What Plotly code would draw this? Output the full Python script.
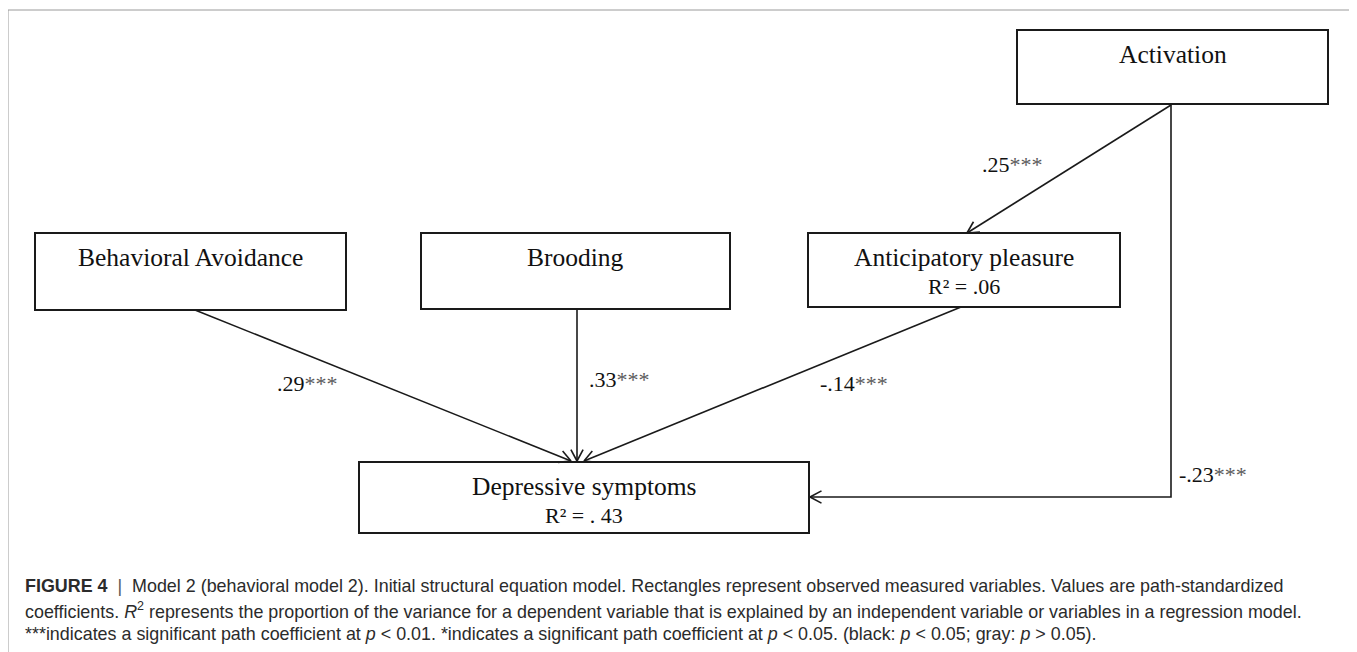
import math
import plotly.graph_objects as go

# ---------------- data ----------------
node_names = ["Activation", "Behavioral Avoidance", "Brooding",
              "Anticipatory pleasure", "Depressive symptoms"]
node_r2 = [None, None, None, "R² = .06", "R² = . 43"]

edge_source = ["Activation", "Behavioral Avoidance", "Brooding",
               "Anticipatory pleasure", "Activation"]
edge_target = ["Anticipatory pleasure", "Depressive symptoms", "Depressive symptoms",
               "Depressive symptoms", "Depressive symptoms"]
edge_coef = [".25", ".29", ".33", "-.14", "-.23"]
edge_sig = ["***", "***", "***", "***", "***"]

caption_lines = [
    "<b>FIGURE 4</b>&nbsp;&nbsp;<span style='color:#555'>|</span>&nbsp; Model 2 (behavioral model 2). Initial structural equation model. "
    "Rectangles represent observed measured variables. Values are path-standardized",
    "coefficients. <i>R</i><sup>2</sup> represents the proportion of the variance for a dependent variable "
    "that is explained by an independent variable or variables in a regression model.",
    "***indicates a significant path coefficient at <i>p</i> &lt; 0.01. *indicates a significant path "
    "coefficient at <i>p</i> &lt; 0.05. (black: <i>p</i> &lt; 0.05; gray: <i>p</i> &gt; 0.05).",
]

# ---------------- layout (positions / styles) ----------------
W, H = 1357, 652
OFF = 8  # page body margin in the browser
box = {  # x0, x1, y0, y1 in screen pixel units
    "Activation": (1017, 1328, 30, 104),
    "Behavioral Avoidance": (35, 346, 233, 310),
    "Brooding": (421, 730, 233, 309),
    "Anticipatory pleasure": (808, 1120, 233, 307),
    "Depressive symptoms": (359, 809, 462, 533),
}
edge_geom = [
    [(1171, 105), (967, 233)],
    [(195, 310), (571, 461)],
    [(577, 309), (577, 461)],
    [(961, 307), (584, 461)],
    [(1171, 105), (1171, 497), (810, 497)],
]
label_pos = [(1012, 164), (307, 383), (619, 379), (854, 383), (1213, 474)]

LINE = "#1a1a1a"
SERIF = "Liberation Serif"
SANS = "Liberation Sans"

fig = go.Figure()
shapes = []
annotations = []

# outer frame
shapes.append(dict(type="rect", x0=8, x1=1350, y0=10, y1=H + 30,
                   line=dict(color="#9a9a9a", width=1), layer="below"))

# boxes + labels
for name, r2 in zip(node_names, node_r2):
    x0, x1, y0, y1 = box[name]
    shapes.append(dict(type="rect", x0=x0, x1=x1, y0=y0, y1=y1,
                       line=dict(color=LINE, width=2), fillcolor="white"))
    cx = (x0 + x1) / 2
    annotations.append(dict(x=cx, y=y0 + 24, text=name, showarrow=False,
                            xanchor="center", yanchor="middle",
                            font=dict(family=SERIF, size=25.5, color="#111")))
    if r2:
        annotations.append(dict(x=cx, y=y0 + 53, text=r2, showarrow=False,
                                xanchor="center", yanchor="middle",
                                font=dict(family=SERIF, size=22, color="#111")))

# edges
HEAD = 13
ANG = math.radians(28)
for pts, coef, sig, lp in zip(edge_geom, edge_coef, edge_sig, label_pos):
    path = "M {} {}".format(*pts[0]) + "".join(" L {} {}".format(*p) for p in pts[1:])
    shapes.append(dict(type="path", path=path, line=dict(color=LINE, width=1.6)))
    (xa, ya), (xb, yb) = pts[-2], pts[-1]
    th = math.atan2(ya - yb, xa - xb)
    for s in (-1, 1):
        hx = xb + HEAD * math.cos(th + s * ANG)
        hy = yb + HEAD * math.sin(th + s * ANG)
        shapes.append(dict(type="line", x0=xb, y0=yb, x1=hx, y1=hy,
                           line=dict(color=LINE, width=1.6)))
    annotations.append(dict(x=lp[0], y=lp[1],
                            text=f"{coef}<span style='color:#5a5a5a'>{sig}</span>",
                            showarrow=False, xanchor="center", yanchor="middle",
                            font=dict(family=SERIF, size=22, color="#111")))

# caption
caption_y = [586, 610, 634]
for line, cy in zip(caption_lines, caption_y):
    annotations.append(dict(x=23, y=cy, text=line, showarrow=False,
                            xanchor="left", yanchor="middle",
                            font=dict(family=SANS, size=17.9, color="#2b2b2b")))

fig.update_layout(
    width=W, height=H,
    margin=dict(l=0, r=0, t=0, b=0),
    paper_bgcolor="white", plot_bgcolor="white",
    xaxis=dict(range=[OFF, W + OFF], visible=False, fixedrange=True),
    yaxis=dict(range=[H + OFF, OFF], visible=False, fixedrange=True),
    shapes=shapes, annotations=annotations, showlegend=False,
)
fig.write_html("out.html")
